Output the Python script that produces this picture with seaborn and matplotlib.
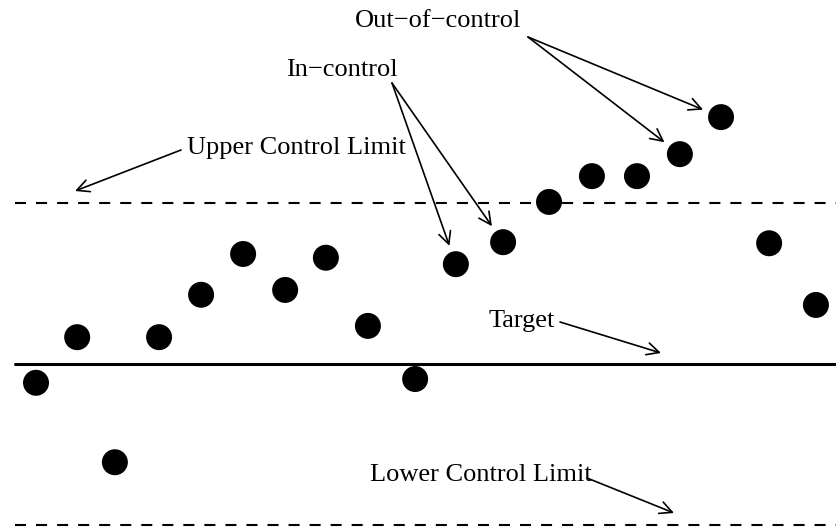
import matplotlib
matplotlib.use("Agg")
import matplotlib.pyplot as plt
import seaborn as sns
import pandas as pd

# ---- data (y in sigma units, target = 0) ----
sample = [1.0, 1.95, 2.82, 3.84, 4.81, 5.78, 6.75, 7.69, 8.66, 9.75,
          10.69, 11.78, 12.84, 13.83, 14.87, 15.86, 16.81, 17.92, 19.0]
value = [-0.35, 0.50, -1.83, 0.50, 1.29, 2.05, 1.38, 1.98, 0.71, -0.28,
         1.86, 2.27, 3.02, 3.50, 3.50, 3.91, 4.60, 2.25, 1.10]
target = 0.0
upper_limit = 3.0
lower_limit = -3.0
in_control_idx = [10, 11]
out_control_idx = [15, 16]
label_ucl = "Upper Control Limit"
label_lcl = "Lower Control Limit"
label_target = "Target"
label_in = "In\u2212control"
label_out = "Out\u2212of\u2212control"

df = pd.DataFrame({"sample": sample, "value": value})

sns.set_theme(style="white")
plt.rcParams["font.family"] = ["Liberation Serif", "DejaVu Serif"]

W, H = 836, 529
fig = plt.figure(figsize=(W / 100, H / 100), dpi=100)
ax = fig.add_axes([0, 0, 1, 1])

sns.scatterplot(data=df, x="sample", y="value", ax=ax, color="black",
                s=350, edgecolor="none", legend=False, zorder=3)

x0 = 15 / W
ax.axhline(target, xmin=x0, xmax=1, color="black", lw=2.2)
ax.axhline(upper_limit, xmin=x0, xmax=1, color="black", lw=1.5, ls=(0, (5.3, 4.8)))
ax.axhline(lower_limit, xmin=x0, xmax=1, color="black", lw=1.5, ls=(0, (5.3, 4.8)))

ax.set_xlim(0.169, 19.463)
ax.set_ylim(-3.074, 6.782)
ax.axis("off")

fs = 19
def fpx(xp, yp):
    return (xp, H - yp)

def txt(s, xp, yp):
    fig.text(xp / W, 1 - yp / H, s, ha="left", va="center", fontsize=fs, color="black")

arrow = dict(arrowstyle="->", lw=1.2, color="black", mutation_scale=22, shrinkA=0, shrinkB=0)

txt(label_out, 355, 21)
txt(label_in, 286, 70)
txt(label_ucl, 187, 148)
txt(label_target, 489, 321)
txt(label_lcl, 370, 475)

# limit / target arrows
ax.annotate("", xy=fpx(75, 191), xycoords="figure pixels", xytext=fpx(181, 150),
            textcoords="figure pixels", arrowprops=arrow)
ax.annotate("", xy=fpx(661, 353), xycoords="figure pixels", xytext=fpx(560, 322),
            textcoords="figure pixels", arrowprops=arrow)
ax.annotate("", xy=fpx(674, 513), xycoords="figure pixels", xytext=fpx(587, 478),
            textcoords="figure pixels", arrowprops=arrow)

# point arrows
pt_arrow = dict(arrow, shrinkB=14)
for i in in_control_idx:
    ax.annotate("", xy=(sample[i], value[i]), xycoords="data", xytext=fpx(392, 83),
                textcoords="figure pixels", arrowprops=pt_arrow)
for i in out_control_idx:
    ax.annotate("", xy=(sample[i], value[i]), xycoords="data", xytext=fpx(528, 37),
                textcoords="figure pixels", arrowprops=pt_arrow)

fig.savefig("out.png", dpi=100, facecolor="white")
